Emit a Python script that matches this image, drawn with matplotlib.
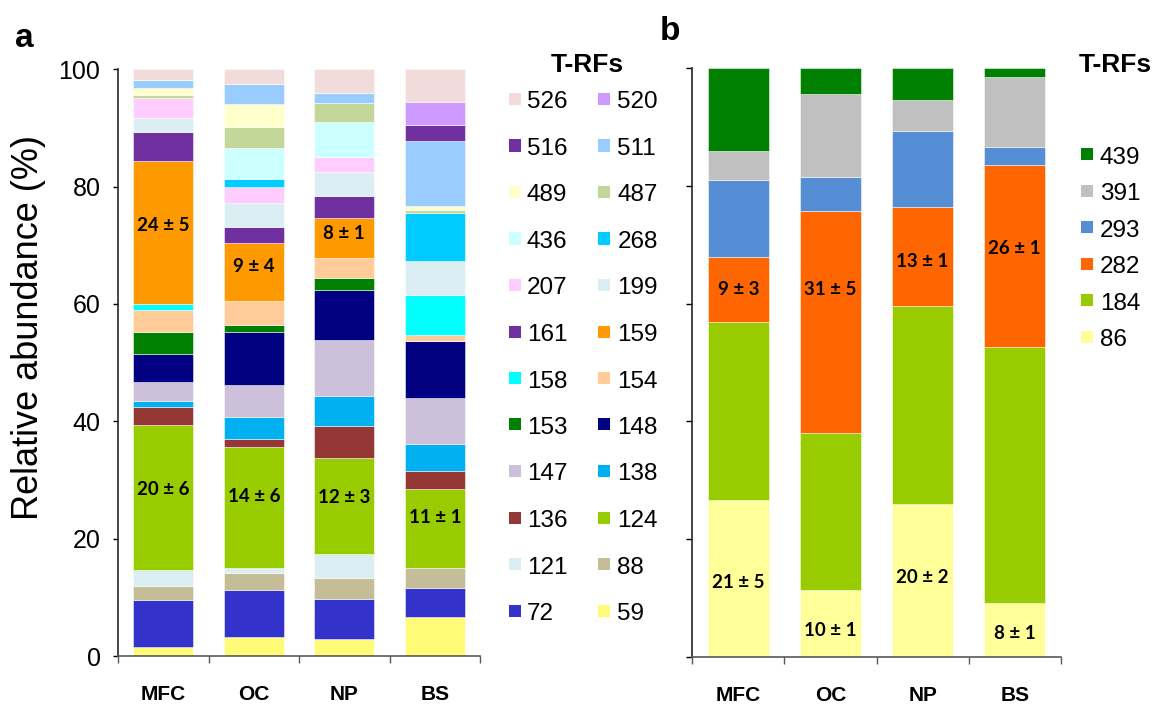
import matplotlib
matplotlib.use("Agg")
import matplotlib.pyplot as plt
from matplotlib.patches import Rectangle
import numpy as np

plt.rcParams['font.family'] = ['Liberation Sans', 'DejaVu Sans']

W, H = 1156, 704

sites = ["MFC", "OC", "NP", "BS"]

# panel a, T-RFs listed from the bottom of each stack to the top
trf_a = [59, 72, 88, 121, 124, 136, 138, 147, 148, 153, 154, 158,
         159, 161, 199, 207, 268, 436, 487, 489, 511, 516, 520, 526]
mfc_a = [1.55, 7.96, 2.39, 2.73, 24.8, 3.0, 1.02, 3.24, 4.84, 3.68, 3.82, 1.02,
         24.26, 5.0, 2.39, 3.41, 0, 0, 0.46, 1.31, 1.24, 0, 0, 1.88]
oc_a = [3.29, 7.96, 2.85, 0.85, 20.73, 1.31, 3.70, 5.51, 9.09, 1.14, 4.14, 0,
        9.79, 2.83, 3.99, 2.78, 1.31, 5.39, 3.53, 3.92, 3.41, 0, 0, 2.48]
np_a = [2.98, 6.70, 3.53, 4.19, 16.32, 5.46, 5.17, 9.50, 8.58, 1.99, 3.36, 0,
        6.92, 3.70, 4.14, 2.56, 0, 5.92, 3.29, 0, 1.70, 0, 0, 3.99]
bs_a = [6.70, 4.84, 3.46, 0, 13.52, 3.02, 4.60, 7.89, 9.72, 0, 0.97, 6.82,
        0, 0, 5.80, 0, 8.13, 0, 0.56, 0.68, 11.08, 2.73, 3.97, 5.51]

# panel b
trf_b = [86, 184, 282, 293, 391, 439]
mfc_b = [26.68, 30.14, 11.02, 13.11, 4.92, 14.13]
oc_b = [11.47, 26.58, 37.60, 5.82, 14.08, 4.45]
np_b = [26.0, 33.58, 16.74, 12.99, 5.21, 5.48]
bs_b = [9.16, 43.52, 30.77, 3.15, 11.82, 1.58]

# mean ± sd written on the main segments
labels_a = [("MFC", 159, "24 ± 5"), ("MFC", 124, "20 ± 6"), ("OC", 159, "9 ± 4"),
            ("OC", 124, "14 ± 6"), ("NP", 159, "8 ± 1"), ("NP", 124, "12 ± 3"),
            ("BS", 124, "11 ± 1")]
labels_b = [("MFC", 282, "9 ± 3"), ("OC", 282, "31 ± 5"), ("NP", 282, "13 ± 1"),
            ("BS", 282, "26 ± 1"), ("MFC", 86, "21 ± 5"), ("OC", 86, "10 ± 1"),
            ("NP", 86, "20 ± 2"), ("BS", 86, "8 ± 1")]
nudge_a = [1.2, 1.4, 1.0, 1.8, 0.8, 1.5, 1.8]
nudge_b = [0.0, 5.5, -0.8, 1.3, -0.7, -1.2, 0.6, -0.5]

colors_a = {526: "#F2DCDB", 520: "#CC99FF", 516: "#7030A0", 511: "#99CCFF",
            489: "#FFFFCC", 487: "#C4D79B", 436: "#CCFFFF", 268: "#00CCFF",
            207: "#FFCCFF", 199: "#DAEEF3", 161: "#7030A0", 159: "#FF9900",
            158: "#00FFFF", 154: "#FFCC99", 153: "#008000", 148: "#000080",
            147: "#CCC0DA", 138: "#00B0F0", 136: "#953735", 124: "#99CC00",
            121: "#DAEEF3", 88: "#C4BD97", 72: "#3333CC", 59: "#FFFA78"}
colors_b = {439: "#008000", 391: "#C0C0C0", 293: "#558ED5", 282: "#FF6600",
            184: "#99CC00", 86: "#FFFF99"}


def fx(px):
    return px / W


def fy(py):
    return 1 - py / H


def stacked(ax, trfs, table, colors, labels, nudges):
    x = np.arange(len(sites))
    data = np.array(table, dtype=float)
    bottom = np.zeros(len(sites))
    mids = {}
    for i, t in enumerate(trfs):
        vals = data[:, i]
        ax.bar(x, vals, 0.66, bottom=bottom, color=colors[t],
               edgecolor=(1, 1, 1, 0.7), linewidth=0.5, zorder=2)
        for j, s in enumerate(sites):
            mids[(s, t)] = bottom[j] + vals[j] / 2
        bottom += vals
    for (s, t, txt), dy in zip(labels, nudges):
        ax.text(sites.index(s), mids[(s, t)] + dy, txt, ha="center", va="center",
                fontsize=13.5, fontweight="bold", family=["Lato", "DejaVu Sans"],
                zorder=3)
    ax.set_xlim(-0.5, len(sites) - 0.5)
    ax.set_ylim(0, 100)
    ax.set_yticks(np.arange(0, 101, 20))
    ax.set_xticks(x)
    ax.set_xticklabels(sites, fontsize=15, fontweight="bold")
    ax.set_xticks(np.arange(-0.5, len(sites), 1), minor=True)
    ax.tick_params(axis="x", which="major", length=0, pad=21)
    ax.tick_params(axis="x", which="minor", length=5, width=1, color="#595959")
    ax.spines["top"].set_visible(False)
    ax.spines["right"].set_visible(False)
    ax.spines["bottom"].set_color("#595959")
    ax.spines["bottom"].set_linewidth(1.2)
    ax.spines["left"].set_color("#262626")
    ax.spines["left"].set_linewidth(1.2)


def legend(fig, entries, colors, sq_x, txt_x, row0, step, ncol, title_xy):
    fig.text(fx(title_xy[0]), fy(title_xy[1]), "T-RFs", ha="center", va="baseline",
             fontsize=19, fontweight="bold")
    for k, t in enumerate(entries):
        r, c = divmod(k, ncol)
        yc = row0 + r * step
        fig.add_artist(Rectangle((fx(sq_x[c]), fy(yc + 5)), 12 / W, 12 / H,
                                 transform=fig.transFigure, color=colors[t], lw=0))
        fig.text(fx(txt_x[c]), fy(yc + 8.5), str(t), ha="left", va="baseline",
                 fontsize=17.5)


fig = plt.figure(figsize=(W / 100, H / 100), dpi=100)

ax_a = fig.add_axes([fx(118), fy(656), (480 - 118) / W, (656 - 69.3) / H])
stacked(ax_a, trf_a, [mfc_a, oc_a, np_a, bs_a], colors_a, labels_a, nudge_a)
ax_a.tick_params(axis="y", length=3.6, width=1, labelsize=18, pad=9)

ax_b = fig.add_axes([fx(692.3), fy(657.3), (1060.8 - 692.3) / W, (657.3 - 67.7) / H])
stacked(ax_b, trf_b, [mfc_b, oc_b, np_b, bs_b], colors_b, labels_b, nudge_b)
ax_b.tick_params(axis="y", length=4.3, width=1, labelleft=False)

fig.text(fx(29), fy(327), "Relative abundance (%)", rotation=90,
         ha="center", va="center", fontsize=26)

fig.text(fx(15), fy(47), "a", fontsize=24, fontweight="bold", va="baseline")
fig.text(fx(660), fy(40), "b", fontsize=24, fontweight="bold", va="baseline")

legend(fig, trf_a[::-1], colors_a, [509.3, 598.3], [526.7, 617.3],
       100, 46.5, 2, (587, 71.7))
legend(fig, trf_b[::-1], colors_b, [1081], [1100], 155, 36.6, 1, (1115, 71.5))

fig.savefig("out.png", dpi=100)
